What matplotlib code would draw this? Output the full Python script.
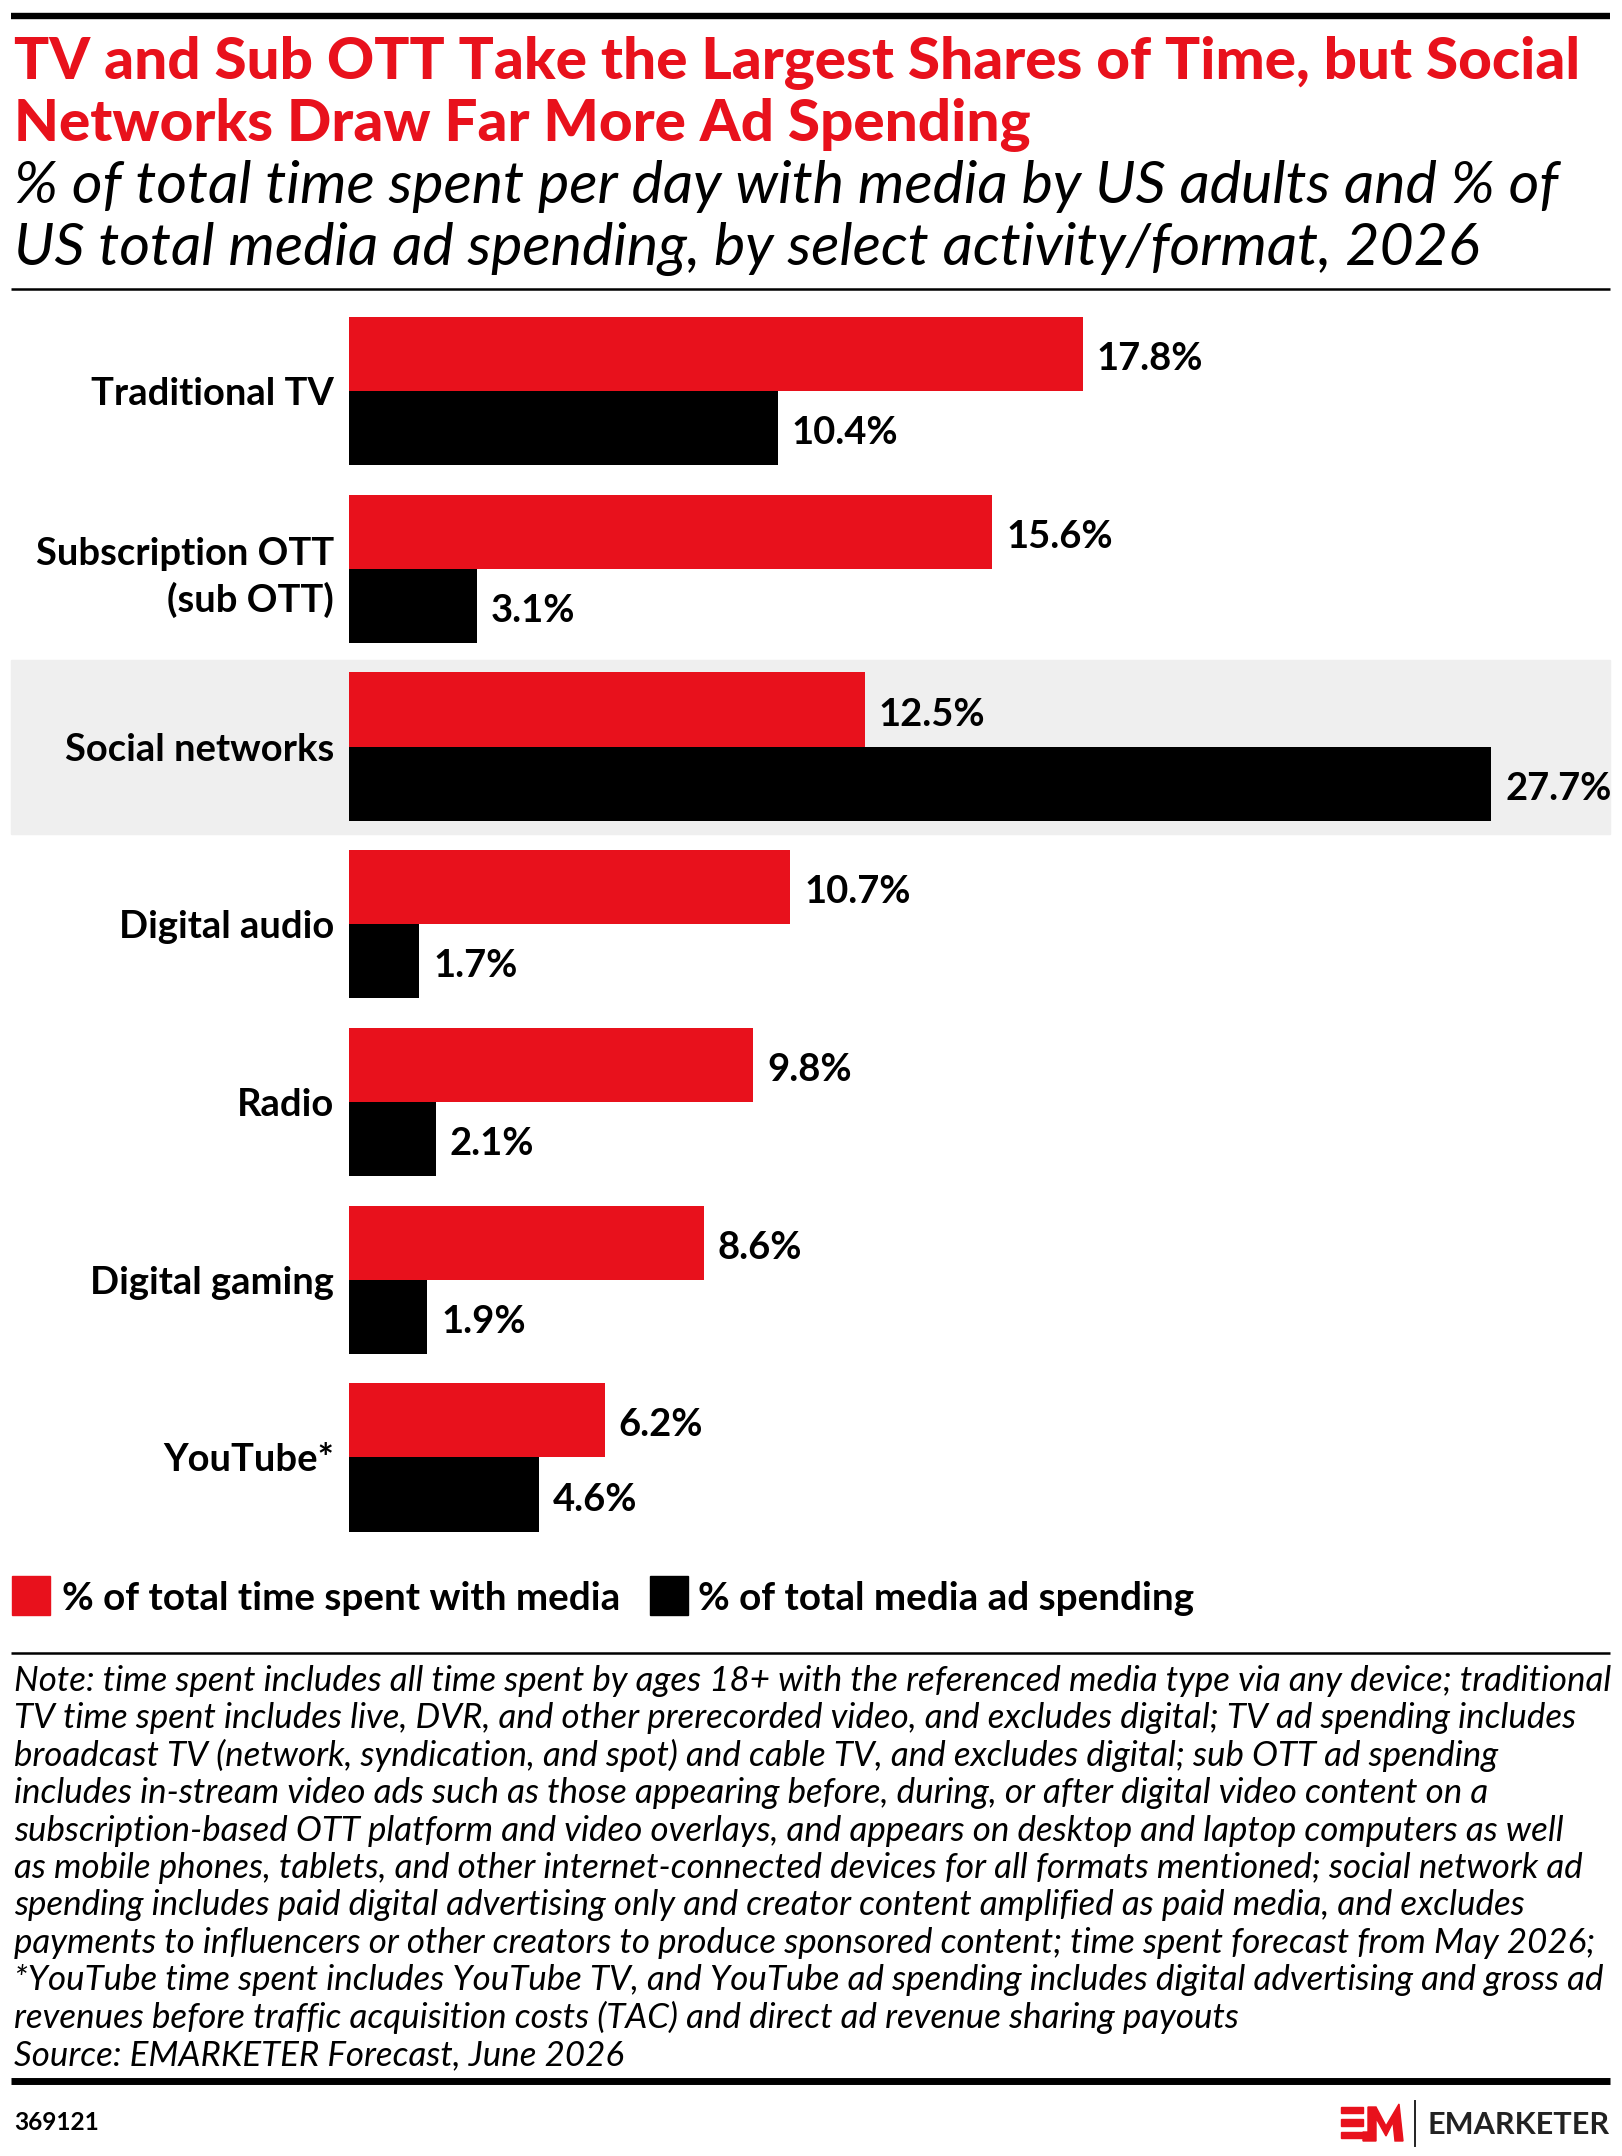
import matplotlib
matplotlib.use('Agg')
import matplotlib.pyplot as plt
import matplotlib.transforms as mtrans
from matplotlib.patches import Rectangle, Polygon
from matplotlib.lines import Line2D
import numpy as np

# chart data
categories = ['Traditional TV', 'Subscription OTT\n(sub OTT)', 'Social networks',
              'Digital audio', 'Radio', 'Digital gaming', 'YouTube*']
time_share = [17.8, 15.6, 12.5, 10.7, 9.8, 8.6, 6.2]
ad_share = [10.4, 3.1, 27.7, 1.7, 2.1, 1.9, 4.6]
series_labels = ['% of total time spent with media', '% of total media ad spending']
highlight = 'Social networks'

title_lines = ['TV and Sub OTT Take the Largest Shares of Time, but Social',
               'Networks Draw Far More Ad Spending']
subtitle_lines = ['% of total time spent per day with media by US adults and % of',
                  'US total media ad spending, by select activity/format, 2026']
note_lines = [
    'Note: time spent includes all time spent by ages 18+ with the referenced media type via any device; traditional',
    'TV time spent includes live, DVR, and other prerecorded video, and excludes digital; TV ad spending includes',
    'broadcast TV (network, syndication, and spot) and cable TV, and excludes digital; sub OTT ad spending',
    'includes in-stream video ads such as those appearing before, during, or after digital video content on a',
    'subscription-based OTT platform and video overlays, and appears on desktop and laptop computers as well',
    'as mobile phones, tablets, and other internet-connected devices for all formats mentioned; social network ad',
    'spending includes paid digital advertising only and creator content amplified as paid media, and excludes',
    'payments to influencers or other creators to produce sponsored content; time spent forecast from May 2026;',
    '*YouTube time spent includes YouTube TV, and YouTube ad spending includes digital advertising and gross ad',
    'revenues before traffic acquisition costs (TAC) and direct ad revenue sharing payouts',
    'Source: EMARKETER Forecast, June 2026',
]
chart_id = '369121'

W, H, DPI = 1622, 2156, 100
RED = '#e8111c'
BAND = '#efefef'

plt.rcParams['font.family'] = ['Lato', 'DejaVu Sans']

fig = plt.figure(figsize=(W / DPI, H / DPI), dpi=DPI)
renderer = fig.canvas.get_renderer()


def fx(px):
    return px / W


def fy(py):
    return 1 - py / H


def fit_size(s, width, **kw):
    # font size that makes the string the given pixel width
    t = fig.text(0, 0, s, fontsize=20, **kw)
    w = t.get_window_extent(renderer).width
    t.remove()
    return 20 * width / w


def hline(y, lw, x0=11, x1=1610):
    fig.add_artist(Line2D([fx(x0), fx(x1)], [fy(y), fy(y)], color='black',
                          lw=lw, transform=fig.transFigure, solid_capstyle='butt'))


# header
hline(15.5, 4.6)
size = fit_size(title_lines[0], 1569, fontweight='black')
for line, base in zip(title_lines, [79, 141]):
    fig.text(fx(14), fy(base), line, fontsize=size, fontweight='black', color=RED, va='baseline')
size = fit_size(subtitle_lines[0], 1542, style='italic')
for line, base in zip(subtitle_lines, [203, 265]):
    fig.text(fx(14), fy(base), line, fontsize=size, style='italic', color='black', va='baseline')
hline(289, 1.8)

# bars
ax = fig.add_axes([fx(349), fy(1560), fx(1608) - fx(349), (1560 - 290) / H])
ax.set_facecolor('none')
y = np.arange(len(categories))
h = 0.4175
ax.barh(y - h / 2, time_share, height=h, color=RED)
ax.barh(y + h / 2, ad_share, height=h, color='black')
ax.set_xlim(0, (1608 - 349) / 41.24)
ax.set_ylim((1560 - 391.2) / 177.7, (290 - 391.2) / 177.7)

lab_size = fit_size('Traditional TV', 242, fontweight='bold')
ax.set_yticks(y, categories)
ax.tick_params(axis='y', length=0, pad=10.8, labelsize=lab_size)
for lbl in ax.get_yticklabels():
    lbl.set_fontweight('bold')
    lbl.set_linespacing(1.35)
ax.set_xticks([])
for sp in ax.spines.values():
    sp.set_visible(False)

for vals, off in [(time_share, -h / 2), (ad_share, h / 2)]:
    for yi, v in zip(y, vals):
        ax.annotate(f'{v}%', xy=(v, yi + off), xytext=(10, -1.5), textcoords='offset points',
                    va='center_baseline', ha='left', fontsize=lab_size, fontweight='bold')

# highlight band behind the social networks row
hi = categories.index(highlight)
band_tr = mtrans.blended_transform_factory(fig.transFigure, ax.transData)
fig.add_artist(Rectangle((fx(11), hi - 0.487), fx(1610) - fx(11), 0.98,
                         transform=band_tr, color=BAND, zorder=-1))

# legend
leg_size = fit_size(series_labels[0], 559, fontweight='bold')
for (x0, tx), col, lab in zip([(12, 62), (650, 698)], [RED, 'black'], series_labels):
    fig.add_artist(Rectangle((fx(x0), fy(1615)), fx(38), 39 / H, color=col,
                             transform=fig.transFigure))
    fig.text(fx(tx), fy(1610), lab, fontsize=leg_size, fontweight='bold', va='baseline')
hline(1653, 1.8)

# notes
note_size = fit_size(note_lines[0], 1594, style='italic')
for i, line in enumerate(note_lines):
    fig.text(fx(14), fy(1691 + 37.4 * i), line, fontsize=note_size, style='italic', va='baseline')
hline(2081, 5.0)

# footer
fig.text(fx(14), fy(2130), chart_id, fontsize=fit_size(chart_id, 85, fontweight='bold'),
         fontweight='bold', va='baseline')
for y0, y1 in [(2107, 2113), (2119, 2126), (2132, 2138)]:
    fig.add_artist(Rectangle((fx(1341), fy(y1)), fx(22), (y1 - y0) / H, color=RED,
                             transform=fig.transFigure))
m_pts = [(1363, 2141), (1363, 2132), (1368, 2132), (1368, 2107), (1376, 2107), (1386, 2126),
         (1399, 2104), (1403, 2141), (1395, 2141), (1393, 2122), (1386, 2136), (1376, 2118),
         (1376, 2141)]
fig.add_artist(Polygon([(fx(a), fy(b)) for a, b in m_pts], closed=True, color=RED,
                       transform=fig.transFigure))
fig.add_artist(Line2D([fx(1415), fx(1415)], [fy(2101), fy(2146)], color='#222222', lw=1.4,
                      transform=fig.transFigure))
fig.text(fx(1427), fy(2134), 'EMARKETER', fontsize=fit_size('EMARKETER', 182, fontweight='bold'),
         fontweight='bold', color='#222222', va='baseline')

fig.savefig('out.png', dpi=DPI)
